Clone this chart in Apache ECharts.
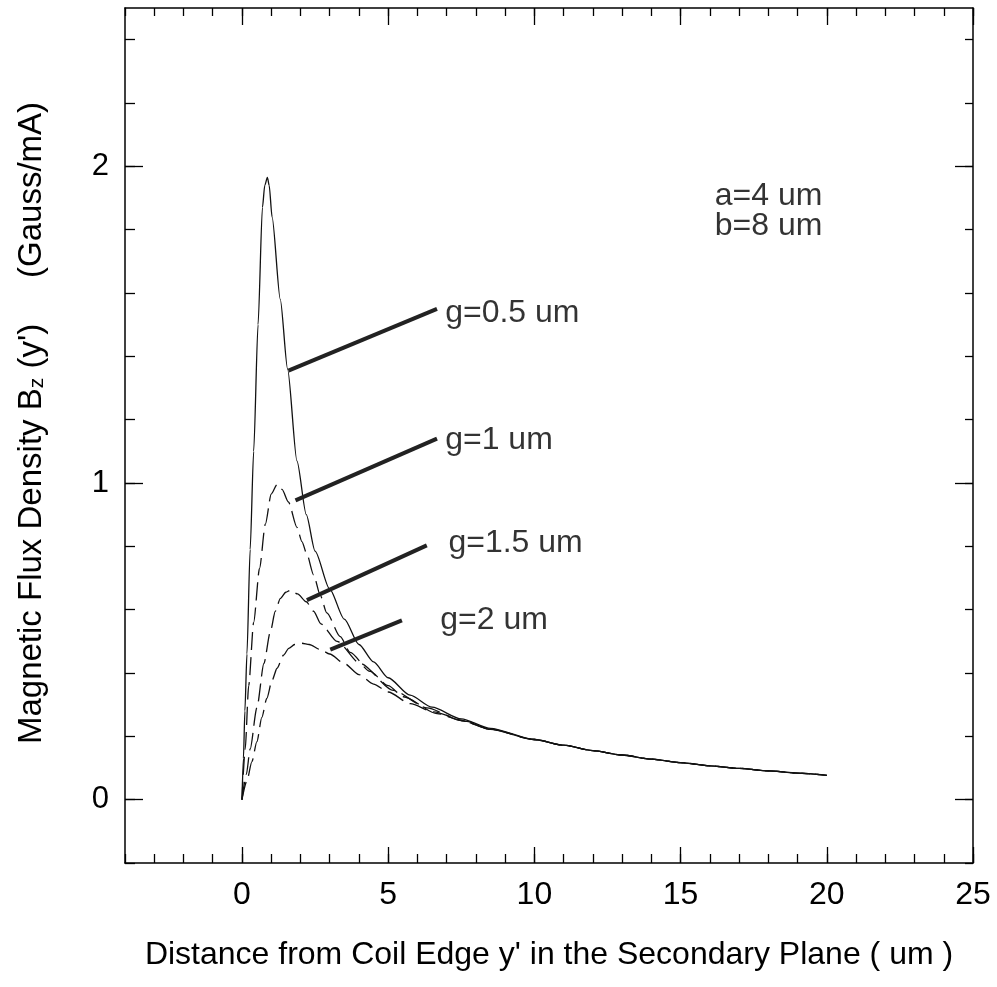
<!DOCTYPE html>
<html><head><meta charset="utf-8">
<script src="https://cdn.jsdelivr.net/npm/echarts@6/dist/echarts.min.js"></script>
<style>html,body{margin:0;padding:0;background:#fff}#c{width:997px;height:987px}</style>
</head><body><div id="c"></div>
<script>
// ---- data ----
const g05 = [[0,0],[0.05,0.13],[0.1,0.28],[0.17,0.46],[0.28,0.79],[0.4,1.1],[0.55,1.5],[0.7,1.87],[0.78,1.94],[0.87,1.965],[0.93,1.94],[1.03,1.84],[1.31,1.58],[1.56,1.36],[1.88,1.07],[2.2,0.9],[2.5,0.785],[3.0,0.665],[3.5,0.57],[4.0,0.49],[4.5,0.435],[5.0,0.385],[5.75,0.33],[6.5,0.292],[7.5,0.255],[8.5,0.225],[10,0.19],[11,0.172],[12,0.155],[13,0.141],[14,0.128],[15,0.117],[16,0.107],[17,0.099],[18,0.091],[19,0.084],[20,0.077]];
const g10 = [[0,0],[0.11,0.16],[0.23,0.36],[0.4,0.56],[0.6,0.73],[0.8,0.87],[1.0,0.965],[1.2,0.995],[1.37,0.98],[1.59,0.94],[1.88,0.86],[2.05,0.815],[2.22,0.775],[2.45,0.71],[2.68,0.645],[2.9,0.59],[3.36,0.515],[3.7,0.465],[4.38,0.405],[5.0,0.36],[5.52,0.325],[6.67,0.272],[7.5,0.25],[8.5,0.222],[10,0.19],[11,0.172],[12,0.155],[13,0.141],[14,0.128],[15,0.117],[16,0.107],[17,0.099],[18,0.091],[19,0.084],[20,0.077]];
const g15 = [[0,0],[0.15,0.08],[0.28,0.16],[0.51,0.29],[0.75,0.43],[0.97,0.53],[1.14,0.595],[1.31,0.635],[1.5,0.655],[1.65,0.661],[1.9,0.65],[2.2,0.625],[2.45,0.595],[2.7,0.555],[3.25,0.5],[4.04,0.43],[5.18,0.345],[6.32,0.29],[7.5,0.25],[8.5,0.222],[10,0.19],[11,0.172],[12,0.155],[13,0.141],[14,0.128],[15,0.117],[16,0.107],[17,0.099],[18,0.091],[19,0.084],[20,0.077]];
const g20 = [[0,0],[0.17,0.06],[0.34,0.12],[0.51,0.183],[0.68,0.26],[0.85,0.32],[1.03,0.377],[1.2,0.415],[1.42,0.456],[1.6,0.478],[1.8,0.49],[2.05,0.494],[2.3,0.49],[2.68,0.474],[3.0,0.46],[3.5,0.43],[4.0,0.395],[4.5,0.365],[5.0,0.34],[5.76,0.303],[6.55,0.277],[7.69,0.247],[8.5,0.222],[10,0.19],[11,0.172],[12,0.155],[13,0.141],[14,0.128],[15,0.117],[16,0.107],[17,0.099],[18,0.091],[19,0.084],[20,0.077]];

const xMajorTicks = [0,5,10,15,20,25];
const xMinorTicks = [-4,-3,-2,-1,0,1,2,3,4,5,6,7,8,9,10,11,12,13,14,15,16,17,18,19,20,21,22,23,24,25];
const yMajorTicks = [0,1,2];
const yMinorTicks = [-0.2,0,0.2,0.4,0.6,0.8,1,1.2,1.4,1.6,1.8,2,2.2,2.4];

const curveLabels = [['g=0.5 um',6.95,1.536],['g=1 um',6.95,1.135],['g=1.5 um',7.06,0.809],['g=2 um',6.78,0.566]];
const leaderLines = [[[1.59,1.355],[6.67,1.55]],[[1.83,0.945],[6.67,1.14]],[[2.22,0.63],[6.32,0.803]],[[3.02,0.474],[5.47,0.566]]];
const paramLabels = [['a=4 um',16.17,1.905],['b=8 um',16.17,1.81]];

// ---- chart ----
const FONT = 'Liberation Sans, Arial, sans-serif';
const chart = echarts.init(document.getElementById('c'), null, {renderer:'canvas'});
const lineCol = '#000';
function xAx(pos, ticks, len, showLine, showLabel) {
  return {
    type:'value', position:pos, min:-4, max:25, interval:1,
    axisLine:{show:showLine, onZero:false, lineStyle:{color:lineCol, width:1.5}},
    axisTick:{show:true, inside:true, length:len, customValues:ticks, lineStyle:{color:lineCol, width:1.3}},
    axisLabel:{show:showLabel, customValues:xMajorTicks, margin:16, fontSize:32, color:'#000', fontFamily:FONT,
      formatter:function(v){return (v>=0 && v%5===0)?String(v):'';}},
    splitLine:{show:false}
  };
}
function yAx(pos, ticks, len, showLine, showLabel) {
  return {
    type:'value', position:pos, min:-0.2, max:2.5, interval:0.2,
    axisLine:{show:showLine, onZero:false, lineStyle:{color:lineCol, width:1.5}},
    axisTick:{show:true, inside:true, length:len, customValues:ticks, lineStyle:{color:lineCol, width:1.3}},
    axisLabel:{show:showLabel, customValues:yMajorTicks, margin:16, fontSize:31, color:'#000', fontFamily:FONT,
      formatter:function(v){return (Math.abs(v-Math.round(v))<1e-6 && v>=0 && v<=2)?String(Math.round(v)):'';}},
    splitLine:{show:false}
  };
}
const xAxes = [xAx('bottom', xMinorTicks, 9, true, true), xAx('bottom', xMajorTicks, 16, false, false),
               xAx('top', xMinorTicks, 8, true, false), xAx('top', xMajorTicks, 17, false, false)];
xAxes[0].name = "Distance from Coil Edge y' in the Secondary Plane ( um )";
xAxes[0].nameLocation = 'middle';
xAxes[0].nameGap = 76;
xAxes[0].nameTextStyle = {fontSize:32, color:'#000', fontFamily:FONT};
const yAxes = [yAx('left', yMinorTicks, 10, true, true), yAx('left', yMajorTicks, 18, false, false),
               yAx('right', yMinorTicks, 8, true, false), yAx('right', yMajorTicks, 18, false, false)];

function curve(name, data, dashed) {
  return {name:name, type:'line', data:data, xAxisIndex:0, yAxisIndex:0, showSymbol:false, symbol:'none',
    smooth:0.25, smoothMonotone:'x', silent:true,
    lineStyle:{color:'#111', width:1.3, type: dashed ? [18,7] : 'solid'}};
}
const series = [curve('g=0.5', g05, false), curve('g=1', g10, true), curve('g=1.5', g15, true), curve('g=2', g20, true)];
leaderLines.forEach(function(seg){
  series.push({type:'line', data:seg, xAxisIndex:0, yAxisIndex:0, symbol:'none', silent:true,
    lineStyle:{color:'#222', width:4}});
});
series.push({type:'scatter', xAxisIndex:0, yAxisIndex:0, symbolSize:0, silent:true,
  data: curveLabels.concat(paramLabels).map(function(d){return {value:[d[1],d[2]], name:d[0]};}),
  label:{show:true, position:[0,0], align:'left', verticalAlign:'middle', fontSize:32, color:'#000', fontFamily:FONT,
    formatter:function(p){return p.name;}}});

chart.setOption({
  backgroundColor:'#fff',
  animation:false,
  grid:{left:125, right:24, top:8, bottom:124, containLabel:false, outerBoundsMode:'none'},
  xAxis:xAxes, yAxis:yAxes, series:series,
  graphic:[{
    type:'text', x:30, y:423, rotation:Math.PI/2, silent:true,
    style:{
      text:"{n|Magnetic Flux Density B}{s|z}{n| (y')     (Gauss/mA)}",
      align:'center', verticalAlign:'middle', fill:'#000', fontFamily:FONT,
      rich:{
        n:{fontSize:33, lineHeight:36, fill:'#000', fontFamily:FONT, verticalAlign:'bottom'},
        s:{fontSize:21, lineHeight:20, fill:'#000', fontFamily:FONT, verticalAlign:'bottom'}
      }
    }
  }]
});
</script></body></html>
